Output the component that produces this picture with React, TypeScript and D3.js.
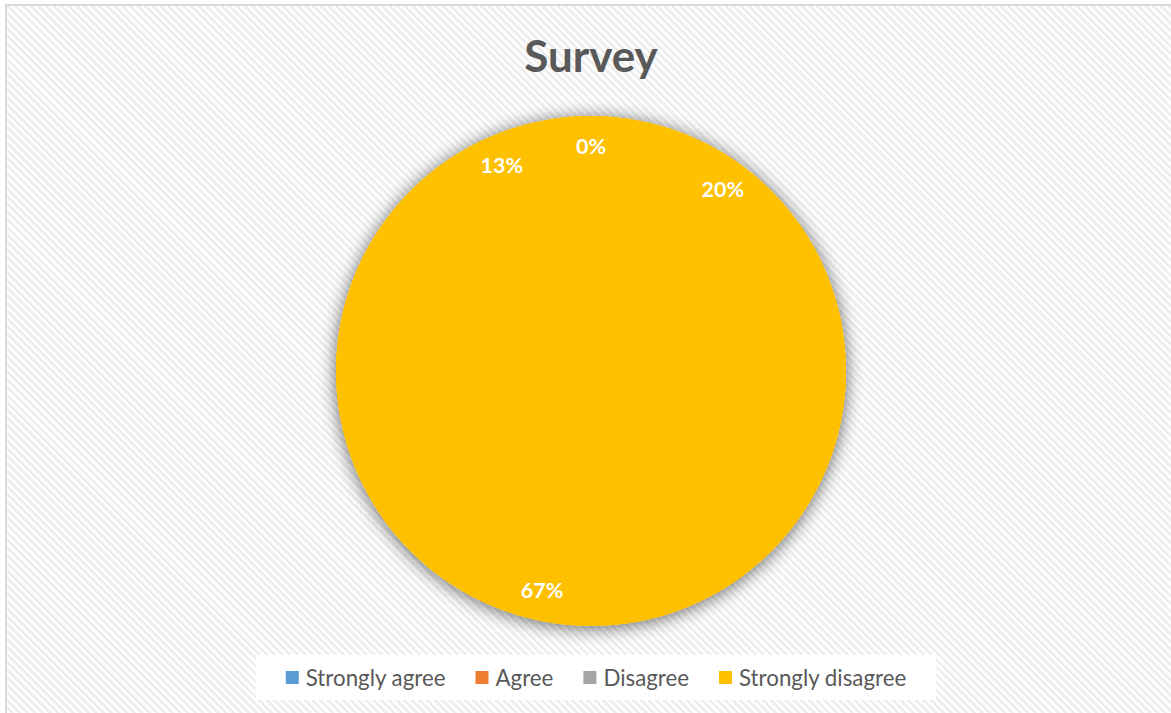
import React, { useEffect, useRef } from "react";
import * as d3 from "d3";

const categories = ["Strongly agree", "Agree", "Disagree", "Strongly disagree"];
const percentages = [0, 20, 67, 13];
const legendColors = ["#5B9BD5", "#ED7D31", "#A5A5A5", "#FFC000"];
const sliceColor = "#FFC000";
const title = "Survey";

const W = 1171;
const H = 713;
const FONT = "Lato, 'Open Sans', sans-serif";

export default function App() {
  const ref = useRef<SVGSVGElement | null>(null);

  useEffect(() => {
    const svg = d3.select(ref.current);
    svg.selectAll("*").remove();

    const defs = svg.append("defs");
    const pat = defs
      .append("pattern")
      .attr("id", "stripes")
      .attr("patternUnits", "userSpaceOnUse")
      .attr("width", 5.4)
      .attr("height", 5.4)
      .attr("patternTransform", "rotate(-45)");
    pat.append("rect").attr("width", 5.4).attr("height", 5.4).attr("fill", "#ffffff");
    pat.append("rect").attr("width", 2.7).attr("height", 5.4).attr("fill", "#eeeeee");

    const f = defs
      .append("filter")
      .attr("id", "shadow")
      .attr("x", "-20%")
      .attr("y", "-20%")
      .attr("width", "140%")
      .attr("height", "140%");
    f.append("feGaussianBlur").attr("in", "SourceAlpha").attr("stdDeviation", 9).attr("result", "b");
    f.append("feOffset").attr("in", "b").attr("dx", 0).attr("dy", 2).attr("result", "o");
    f.append("feComponentTransfer")
      .attr("in", "o")
      .attr("result", "s")
      .append("feFuncA")
      .attr("type", "linear")
      .attr("slope", 0.6);
    const m = f.append("feMerge");
    m.append("feMergeNode").attr("in", "s");
    m.append("feMergeNode").attr("in", "SourceGraphic");

    // background + frame
    svg.append("rect").attr("width", W).attr("height", H).attr("fill", "#ffffff");
    svg
      .append("rect")
      .attr("x", 6)
      .attr("y", 5)
      .attr("width", W + 10)
      .attr("height", H + 10)
      .attr("fill", "url(#stripes)")
      .attr("stroke", "#d9d9d9")
      .attr("stroke-width", 2);

    // title
    svg
      .append("text")
      .attr("x", 591)
      .attr("y", 72)
      .attr("text-anchor", "middle")
      .attr("font-family", FONT)
      .attr("font-weight", "bold")
      .attr("font-size", 44)
      .attr("fill", "#595959")
      .text(title);

    // pie
    const cx = 591;
    const cy = 371;
    const r = 255;
    const data = categories.map((c, i) => ({ c, v: percentages[i] }));
    const pie = d3
      .pie<{ c: string; v: number }>()
      .value((d) => d.v)
      .sort(null);
    const arcs = pie(data);
    const arc = d3.arc<d3.PieArcDatum<{ c: string; v: number }>>().innerRadius(0).outerRadius(r);
    const labelArc = d3
      .arc<d3.PieArcDatum<{ c: string; v: number }>>()
      .innerRadius(r * 0.88)
      .outerRadius(r * 0.88);

    const g = svg.append("g").attr("transform", `translate(${cx},${cy})`);
    g.append("circle").attr("r", r).attr("fill", sliceColor).attr("filter", "url(#shadow)");
    g.selectAll("path.slice")
      .data(arcs)
      .enter()
      .append("path")
      .attr("class", "slice")
      .attr("d", arc as any)
      .attr("fill", sliceColor);

    const total = d3.sum(percentages);
    g.selectAll("text.lbl")
      .data(arcs)
      .enter()
      .append("text")
      .attr("class", "lbl")
      .attr("transform", (d) => {
        const mid = (d.startAngle + d.endAngle) / 2;
        const p = labelArc.centroid({ ...d, startAngle: mid, endAngle: mid } as any);
        return `translate(${p[0]},${p[1]})`;
      })
      .attr("text-anchor", "middle")
      .attr("dy", "0.36em")
      .attr("font-family", FONT)
      .attr("font-weight", "bold")
      .attr("font-size", 21.5)
      .attr("fill", "#ffffff")
      .text((d) => `${Math.round((d.data.v / total) * 100)}%`);

    // legend
    const legend = svg.append("g");
    const box = legend.append("rect").attr("fill", "#ffffff");
    const items = legend.selectAll("g.item").data(categories).enter().append("g").attr("class", "item");
    items
      .append("rect")
      .attr("width", 13)
      .attr("height", 13)
      .attr("y", -7)
      .attr("fill", (_d, i) => legendColors[i]);
    const texts = items
      .append("text")
      .attr("x", 20)
      .attr("dy", "0.35em")
      .attr("font-family", FONT)
      .attr("font-size", 22.3)
      .attr("fill", "#595959")
      .text((d) => d);
    const widths: number[] = [];
    texts.each(function () {
      widths.push(20 + (this as SVGTextElement).getComputedTextLength());
    });
    const gap = 30;
    const totalW = d3.sum(widths) + gap * (widths.length - 1);
    const lcx = 596;
    let x = lcx - totalW / 2;
    const ly = 678;
    items.attr("transform", (_d, i) => {
      const t = `translate(${x},${ly})`;
      x += widths[i] + gap;
      return t;
    });
    box
      .attr("x", lcx - totalW / 2 - 30)
      .attr("y", 655)
      .attr("width", totalW + 60)
      .attr("height", 45);
  }, []);

  return (
    <svg
      ref={ref}
      width={W}
      height={H}
      style={{ position: "absolute", left: 0, top: 0, display: "block" }}
    />
  );
}
